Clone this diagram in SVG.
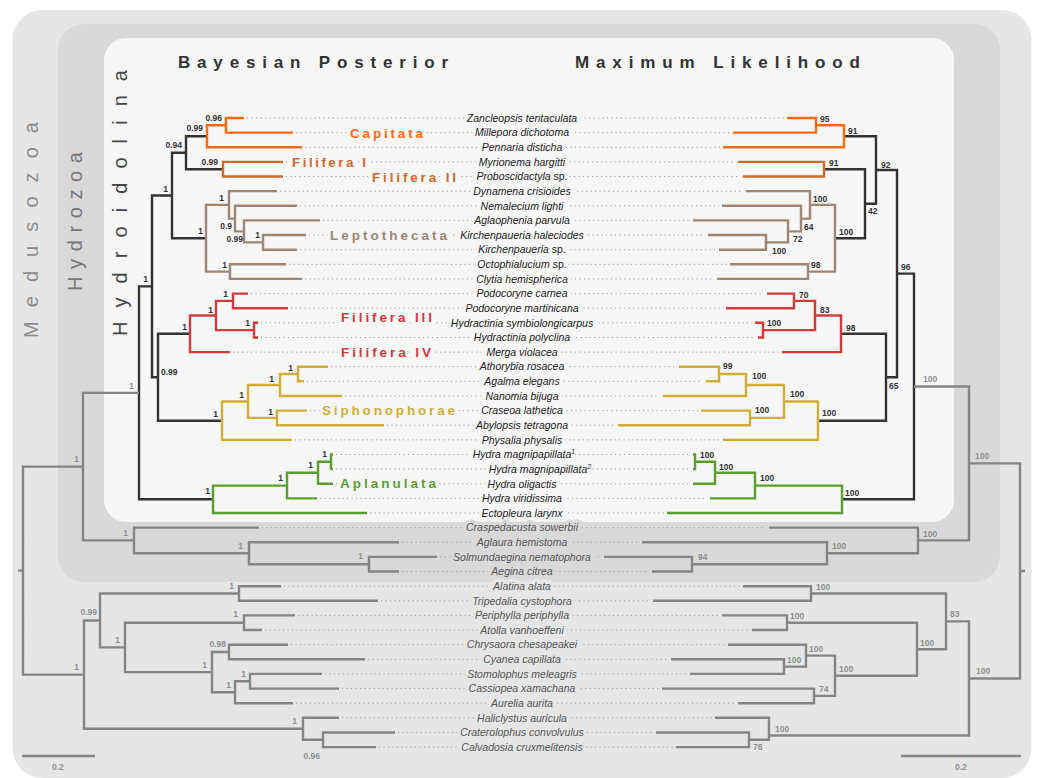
<svg xmlns="http://www.w3.org/2000/svg" width="1040" height="778" viewBox="0 0 1040 778">
<style>
text{font-family:"Liberation Sans",Arial,sans-serif}
.br{fill:none;stroke-width:2.4;stroke-linejoin:miter;stroke-linecap:butt}
.dk{stroke:#333}.gy{stroke:#858585}.or{stroke:#ff6a10}.cu{stroke:#d2692a}.bn{stroke:#9d8676}.rd{stroke:#d43a3a}.mu{stroke:#d1ad36}.gn{stroke:#5b9e30}
.dot{fill:none;stroke:#9a9a9a;stroke-width:1;stroke-dasharray:1.1 3.4}
.tx{font-size:10.5px;font-style:italic;text-anchor:middle;fill:#222;paint-order:stroke;stroke:#f7f7f7;stroke-width:7px;stroke-linejoin:round}
.tx2{fill:#555;stroke:#d9d9d9}.tx3{fill:#555;stroke:#e6e6e6}
.sup{font-size:7px;stroke-width:1px}
.cl{font-size:13.5px;font-weight:bold;paint-order:stroke;stroke:#f7f7f7;stroke-width:7px;stroke-linejoin:round}
.sl{font-size:8.5px;font-weight:bold;fill:#333}
.sg{font-size:8.5px;font-weight:bold;fill:#8f8f8f}
.le{text-anchor:end}
.hd{font-size:17px;font-weight:bold;fill:#333}
.vt{font-size:20px}
</style>
<g id="panels">
<rect x="12.5" y="10" width="1019" height="768" rx="30" fill="#e6e6e6"/>
<rect x="58" y="24" width="942" height="558" rx="26" fill="#d9d9d9"/>
<rect x="104" y="38" width="850" height="484" rx="22" fill="#f7f7f7"/>
</g>
<g id="titles">
<text class="hd" x="178" y="68" textLength="270" lengthAdjust="spacing">Bayesian Posterior</text>
<text class="hd" x="575" y="68" textLength="285" lengthAdjust="spacing">Maximum Likelihood</text>
<text class="vt" fill="#8c8c8c" x="38" y="338" transform="rotate(-90 38 338)" textLength="216" lengthAdjust="spacing">Medusozoa</text>
<text class="vt" fill="#777" x="82" y="291" transform="rotate(-90 82 291)" textLength="139" lengthAdjust="spacing">Hydrozoa</text>
<text class="vt" fill="#444" x="127" y="336" transform="rotate(-90 127 336)" textLength="266" lengthAdjust="spacing">Hydroidolina</text>
</g>
<g id="connectors">
<g id="dots">
<path class="dot" d="M247,118H784M296,132.6H730M305,147.3H720M286,161.9H735M286,176.5H740M280,191.2H743M300,205.8H719M323,220.4H690M309,235H705M300,249.7H716M289,264.3H727M305,278.9H714M251,293.6H764M291,308.2H723M261,322.8H752M261,337.5H755M233,352.1H779M331,366.7H676M307,381.3H703M345,396H660M310,410.6H698M387,425.2H615M295,439.9H720M336,454.5H690M336,469.1H690M336,483.8H690M320,498.4H707M370,513H664M262,527.6H766M402,542.3H639M440,556.9H601M402,571.5H649M284,586.2H740M381,600.8H650M298,615.4H719M265,630.1H749M291,644.7H725M368,659.3H668M325,673.9H687M342,688.6H659M296,703.2H735M342,717.8H712M398,732.5H653M379,747.1H673"/>
</g>
<g id="bayes-tree">
<path class="br dk" d="M207,136.3H186V169.2H223M186,152.75H172V238.25H206M172,195.5H152V377.25H158M190,333.8H158V420.7H222M152,286.4H139V499.3H213"/>
<path class="br or" d="M244,118H226V132.6H293M226,125.3H207V147.3H302"/>
<path class="br cu" d="M283,161.9H223V176.5H283"/>
<path class="br bn" d="M306,235H263V249.7H297M320,220.4H244V242.35H263M297,205.8H235V231.4H244M277,191.15H229V218.6H235M286,264.3H230V278.9H302M229,204.9H206V271.6H230"/>
<path class="br rd" d="M248,293.6H233V308.2H288M258,322.8H254V337.45H258M233,300.9H216V330.1H254M216,315.5H190V352.1H230"/>
<path class="br mu" d="M328,366.7H298V381.3H304M298,374H280V396H342M307,410.6H277V425.2H384M280,385H248V417.9H277M248,401.45H222V439.9H292"/>
<path class="br gn" d="M333,454.5H331V469.1H333M331,461.8H318V483.75H333M318,472.8H287V498.4H317M287,485.6H213V513H367"/>
<path class="br gy" d="M139,392.85H83V540.4H134M437,556.9H369V571.5H399M399,542.3H249V564.2H369M259,527.6H134V553.25H249M281,586.2H239V600.8H378M295,615.4H244V630.05H262M288,644.7H229V659.3H365M322,673.9H250V688.6H339M250,681.25H235V703.2H293M229,652H212V692.2H235M244,622.7H125V672.1H212M239,593.5H100V647.4H125M395,732.5H323V747.1H376M339,717.8H303V739.8H323M100,620.45H84V728.8H303M83,466.6H23V674.6H84M23,570.6H18"/>
</g>
<g id="ml-tree">
<path class="br dk" d="M824,169.2H865V238.25H835M844,136.3H876V203.7H865M841,333.8H886V420.7H818M876,170H897V377.25H886M897,273.6H914V499.3H842"/>
<path class="br or" d="M787,118H816V132.6H733M816,125.3H844V147.3H723"/>
<path class="br cu" d="M738,161.9H824V176.5H743"/>
<path class="br bn" d="M708,235H766V249.7H719M693,220.4H788V242.35H766M722,205.8H801V231.4H788M746,191.15H810V218.6H801M730,264.3H808V278.9H717M810,204.9H835V271.6H808"/>
<path class="br rd" d="M767,293.6H794V308.2H726M755,322.8H763V337.45H758M794,300.9H815V330.1H763M815,315.5H841V352.1H782"/>
<path class="br mu" d="M679,366.7H719V381.3H706M719,374H746V396H663M701,410.6H750V425.2H618M746,385H784V417.9H750M784,401.45H818V439.9H723"/>
<path class="br gn" d="M693,454.5H695V469.1H693M695,461.8H715V483.75H693M715,472.8H755V498.4H710M755,485.6H842V513H667"/>
<path class="br gy" d="M914,386.45H969V540.4H918M604,556.9H692V571.5H652M642,542.3H827V564.2H692M769,527.6H918V553.25H827M743,586.2H811V600.8H653M722,615.4H787V630.05H752M671,659.3H784V673.9H690M728,644.7H806V666.6H784M662,688.6H814V703.2H738M806,655.65H835V695.9H814M787,622.7H917V675.8H835M811,593.5H946V649.25H917M656,732.5H749V747.1H676M715,717.8H769V739.8H749M749,739.8V739.8M946,621.4H969V735.5H769M969,463.4H1020V678.5H969M1020,571H1025"/>
</g>
<g id="scalebars">
<path class="br gy" d="M22,756H95M901,756H1021"/>
</g>
</g>
<g id="support-bayes">
<text class="sl le" x="222" y="121">0.96</text>
<text class="sl le" x="203" y="131">0.99</text>
<text class="sl le" x="182" y="148">0.94</text>
<text class="sl le" x="218" y="165">0.99</text>
<text class="sl le" x="168" y="192">1</text>
<text class="sl le" x="224" y="201">1</text>
<text class="sl le" x="232" y="228.5">0.9</text>
<text class="sl le" x="203" y="234">1</text>
<text class="sl le" x="243" y="242">0.99</text>
<text class="sl le" x="260" y="237.5">1</text>
<text class="sl le" x="148" y="282">1</text>
<text class="sl le" x="227" y="268">1</text>
<text class="sl le" x="228" y="297">1</text>
<text class="sl le" x="213" y="313">1</text>
<text class="sl le" x="250" y="326">1</text>
<text class="sl le" x="187" y="330">1</text>
<text class="sl" x="161" y="375">0.99</text>
<text class="sl le" x="293" y="371">1</text>
<text class="sl le" x="274" y="381.5">1</text>
<text class="sl le" x="244" y="398">1</text>
<text class="sl le" x="273" y="415">1</text>
<text class="sl le" x="218" y="417">1</text>
<text class="sl le" x="327" y="457">1</text>
<text class="sl le" x="313" y="468">1</text>
<text class="sl le" x="283" y="481">1</text>
<text class="sl le" x="210" y="494">1</text>
<text class="sg le" x="134" y="388.5">1</text>
<text class="sg le" x="79" y="462">1</text>
<text class="sg le" x="128" y="536">1</text>
<text class="sg le" x="243" y="549">1</text>
<text class="sg le" x="363" y="559">1</text>
<text class="sg le" x="234" y="588.5">1</text>
<text class="sg le" x="97" y="615">0.99</text>
<text class="sg le" x="238" y="617">1</text>
<text class="sg le" x="120" y="643">1</text>
<text class="sg le" x="226" y="647">0.98</text>
<text class="sg le" x="79" y="670">1</text>
<text class="sg le" x="207" y="668">1</text>
<text class="sg le" x="246" y="677">1</text>
<text class="sg le" x="231" y="688">1</text>
<text class="sg le" x="297" y="724">1</text>
<text class="sg le" x="320" y="759">0.96</text>
<text class="sg" x="52" y="769.5">0.2</text>
</g>
<g id="support-ml">
<text class="sl" x="820" y="122">95</text>
<text class="sl" x="848" y="133.5">91</text>
<text class="sl" x="881" y="167.5">92</text>
<text class="sl" x="829" y="166">91</text>
<text class="sl" x="868" y="213.5">42</text>
<text class="sl" x="839" y="234.5">100</text>
<text class="sl" x="813" y="201.5">100</text>
<text class="sl" x="804" y="229.5">64</text>
<text class="sl" x="793" y="242">72</text>
<text class="sl" x="772" y="254">100</text>
<text class="sl" x="811" y="268">98</text>
<text class="sl" x="901" y="270">96</text>
<text class="sl" x="799" y="297.5">70</text>
<text class="sl" x="820" y="312.5">83</text>
<text class="sl" x="767" y="325.5">100</text>
<text class="sl" x="846" y="330.5">98</text>
<text class="sl" x="889" y="388.5">65</text>
<text class="sl" x="723" y="368.5">99</text>
<text class="sl" x="752" y="378.5">100</text>
<text class="sl" x="790" y="396.5">100</text>
<text class="sl" x="755" y="413">100</text>
<text class="sl" x="822" y="415.5">100</text>
<text class="sl" x="700" y="457.5">100</text>
<text class="sl" x="719" y="469.5">100</text>
<text class="sl" x="760" y="481">100</text>
<text class="sl" x="845" y="495.5">100</text>
<text class="sg" x="923" y="382">100</text>
<text class="sg" x="975" y="459">100</text>
<text class="sg" x="923" y="536.5">100</text>
<text class="sg" x="832" y="549">100</text>
<text class="sg" x="698" y="560">94</text>
<text class="sg" x="816" y="589.5">100</text>
<text class="sg" x="950" y="617">83</text>
<text class="sg" x="790" y="619">100</text>
<text class="sg" x="920" y="646">100</text>
<text class="sg" x="809" y="652">100</text>
<text class="sg" x="787" y="663">100</text>
<text class="sg" x="839" y="672">100</text>
<text class="sg" x="819" y="692">74</text>
<text class="sg" x="976" y="674">100</text>
<text class="sg" x="775" y="732">100</text>
<text class="sg" x="753" y="750">78</text>
<text class="sg" x="955" y="769.5">0.2</text>
</g>
<g id="clades">
<text id="capitata" class="cl" fill="#ff6a10" x="350" y="137.5" textLength="73" lengthAdjust="spacing">Capitata</text>
<text id="filifera-1" class="cl" fill="#d2692a" x="292" y="167" textLength="74" lengthAdjust="spacing">Filifera I</text>
<text id="filifera-2" class="cl" fill="#d2692a" x="372" y="182" textLength="84" lengthAdjust="spacing">Filifera II</text>
<text id="leptothecata" class="cl" fill="#9d8676" x="330" y="239.5" textLength="117" lengthAdjust="spacing">Leptothecata</text>
<text id="filifera-3" class="cl" fill="#d43a3a" x="341" y="321.5" textLength="91" lengthAdjust="spacing">Filifera III</text>
<text id="filifera-4" class="cl" fill="#d43a3a" x="341" y="357" textLength="90" lengthAdjust="spacing">Filifera IV</text>
<text id="siphonophorae" class="cl" fill="#d1ad36" x="322" y="414.5" textLength="133" lengthAdjust="spacing">Siphonophorae</text>
<text id="aplanulata" class="cl" fill="#5b9e30" x="340" y="488" textLength="96" lengthAdjust="spacing">Aplanulata</text>
</g>
<g id="taxa">
<g id="t1"><text class="tx" x="522" y="121.7">Zancleopsis tentaculata</text></g>
<g id="t2"><text class="tx" x="522" y="136.3">Millepora dichotoma</text></g>
<g id="t3"><text class="tx" x="522" y="151">Pennaria disticha</text></g>
<g id="t4"><text class="tx" x="522" y="165.6">Myrionema hargitti</text></g>
<g id="t5"><text class="tx" x="522" y="180.2">Proboscidactyla <tspan font-style="normal">sp.</tspan></text></g>
<g id="t6"><text class="tx" x="522" y="194.9">Dynamena crisioides</text></g>
<g id="t7"><text class="tx" x="522" y="209.5">Nemalecium lighti</text></g>
<g id="t8"><text class="tx" x="522" y="224.1">Aglaophenia parvula</text></g>
<g id="t9"><text class="tx" x="522" y="238.7">Kirchenpaueria haleciodes</text></g>
<g id="t10"><text class="tx" x="522" y="253.4">Kirchenpaueria <tspan font-style="normal">sp.</tspan></text></g>
<g id="t11"><text class="tx" x="522" y="268">Octophialucium <tspan font-style="normal">sp.</tspan></text></g>
<g id="t12"><text class="tx" x="522" y="282.6">Clytia hemispherica</text></g>
<g id="t13"><text class="tx" x="522" y="297.3">Podocoryne carnea</text></g>
<g id="t14"><text class="tx" x="522" y="311.9">Podocoryne martinicana</text></g>
<g id="t15"><text class="tx" x="522" y="326.5">Hydractinia symbiolongicarpus</text></g>
<g id="t16"><text class="tx" x="522" y="341.2">Hydractinia polyclina</text></g>
<g id="t17"><text class="tx" x="522" y="355.8">Merga violacea</text></g>
<g id="t18"><text class="tx" x="522" y="370.4">Athorybia rosacea</text></g>
<g id="t19"><text class="tx" x="522" y="385">Agalma elegans</text></g>
<g id="t20"><text class="tx" x="522" y="399.7">Nanomia bijuga</text></g>
<g id="t21"><text class="tx" x="522" y="414.3">Craseoa lathetica</text></g>
<g id="t22"><text class="tx" x="522" y="428.9">Abylopsis tetragona</text></g>
<g id="t23"><text class="tx" x="522" y="443.6">Physalia physalis</text></g>
<g id="t24"><text class="tx" x="524" y="458.2">Hydra magnipapillata<tspan class="sup" dy="-4">1</tspan></text></g>
<g id="t25"><text class="tx" x="540" y="472.8">Hydra magnipapillata<tspan class="sup" dy="-4">2</tspan></text></g>
<g id="t26"><text class="tx" x="522" y="487.5">Hydra oligactis</text></g>
<g id="t27"><text class="tx" x="522" y="502.1">Hydra viridissima</text></g>
<g id="t28"><text class="tx" x="522" y="516.7">Ectopleura larynx</text></g>
<g id="t29"><text class="tx tx2" x="522" y="531.3">Craspedacusta sowerbii</text></g>
<g id="t30"><text class="tx tx2" x="522" y="546">Aglaura hemistoma</text></g>
<g id="t31"><text class="tx tx2" x="522" y="560.6">Solmundaegina nematophora</text></g>
<g id="t32"><text class="tx tx2" x="522" y="575.2">Aegina citrea</text></g>
<g id="t33"><text class="tx tx3" x="522" y="589.9">Alatina alata</text></g>
<g id="t34"><text class="tx tx3" x="522" y="604.5">Tripedalia cystophora</text></g>
<g id="t35"><text class="tx tx3" x="522" y="619.1">Periphylla periphylla</text></g>
<g id="t36"><text class="tx tx3" x="522" y="633.8">Atolla vanhoeffeni</text></g>
<g id="t37"><text class="tx tx3" x="522" y="648.4">Chrysaora chesapeakei</text></g>
<g id="t38"><text class="tx tx3" x="522" y="663">Cyanea capillata</text></g>
<g id="t39"><text class="tx tx3" x="522" y="677.6">Stomolophus meleagris</text></g>
<g id="t40"><text class="tx tx3" x="522" y="692.3">Cassiopea xamachana</text></g>
<g id="t41"><text class="tx tx3" x="522" y="706.9">Aurelia aurita</text></g>
<g id="t42"><text class="tx tx3" x="522" y="721.5">Haliclystus auricula</text></g>
<g id="t43"><text class="tx tx3" x="522" y="736.2">Craterolophus convolvulus</text></g>
<g id="t44"><text class="tx tx3" x="522" y="750.8">Calvadosia cruxmelitensis</text></g>
</g>
</svg>
